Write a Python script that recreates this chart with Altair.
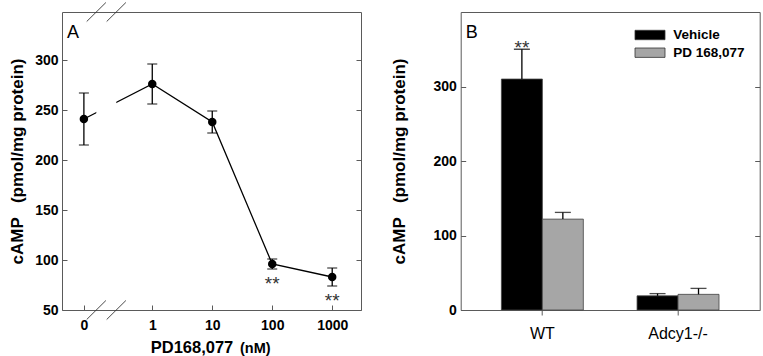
import math
import altair as alt
import pandas as pd

# ---------------- Panel A data ----------------
conc_labels = ["0", "1", "10", "100", "1000"]
conc_values = [0, 1, 10, 100, 1000]
camp_mean = [241, 276, 238, 96, 83]
camp_err = [26, 20, 11, 5, 9]
camp_sig = ["", "", "", "**", "**"]

# ---------------- Panel B data ----------------
genotypes = ["WT", "Adcy1-/-"]
treatments = ["Vehicle", "PD 168,077"]
treatment_colors = ["#000000", "#a6a6a6"]
vehicle_mean = [310, 19]
vehicle_err = [40, 3]
pd_mean = [122, 21]
pd_err = [9, 8]
vehicle_sig = ["**", ""]
pd_sig = ["", ""]

# ---------------- layout / style constants ----------------
ZERO_POS = -1.14            # where the "0" dose sits, left of the axis break
BREAK_CENTERS = [-0.933, -0.60]
XA_DOMAIN = [-1.505, 3.48]
YA_DOMAIN = [50, 348]
YB_DOMAIN = [0, 400]
W, H = 299, 298
FONT = "Liberation Sans"
FRAME = "#5a5a5a"
YTITLE = "cAMP\u00a0\u00a0\u00a0(pmol/mg protein)"

pos = [math.log10(c) if c > 0 else ZERO_POS for c in conc_values]
dfa = pd.DataFrame({"label": conc_labels, "pos": pos, "mean": camp_mean,
                    "err": camp_err, "sig": camp_sig})
dfa["lo"] = dfa["mean"] - dfa["err"]
dfa["hi"] = dfa["mean"] + dfa["err"]

xsA = alt.Scale(domain=XA_DOMAIN, nice=False, zero=False)
ysA = alt.Scale(domain=YA_DOMAIN, nice=False, zero=False)

x_axis_A = alt.Axis(values=pos,
                    labelExpr="datum.value < -1 ? '0' : format(pow(10, datum.value), 'd')",
                    title=None, domain=False, grid=False, tickSize=5, offset=-5,
                    tickColor=FRAME, labelFont=FONT, labelFontWeight="bold",
                    labelFontSize=14, labelPadding=8, labelColor="black")
y_axis_A = alt.Axis(values=[50, 100, 150, 200, 250, 300], title=YTITLE,
                    domain=False, grid=False, tickSize=5, offset=-5, tickColor=FRAME,
                    labelFont=FONT, labelFontWeight="bold", labelFontSize=14,
                    labelColor="black", labelPadding=4, minExtent=36, maxExtent=36,
                    titlePadding=5, titleFont=FONT, titleFontSize=17,
                    titleFontWeight="bold", titleColor="black")
y_axis_A_right = alt.Axis(orient="right", values=[50, 100, 150, 200, 250, 300],
                          labels=False, title=None, domain=False, grid=False,
                          tickSize=5, offset=-5, tickColor=FRAME,
                          minExtent=0, maxExtent=0)

baseA = alt.Chart(dfa)
lineA = baseA.mark_line(color="black", strokeWidth=1.3).encode(
    x=alt.X("pos:Q", scale=xsA, axis=x_axis_A),
    y=alt.Y("mean:Q", scale=ysA, axis=y_axis_A))

gapA = alt.Chart(pd.DataFrame({"x": [BREAK_CENTERS[0]], "x2": [BREAK_CENTERS[1]],
                               "y": [200], "y2": [320]})).mark_rect(color="white").encode(
    x=alt.X("x:Q", scale=xsA, axis=None), x2="x2:Q",
    y=alt.Y("y:Q", scale=ysA, axis=None), y2="y2:Q")

errA = baseA.mark_rule(color="black", strokeWidth=1.3).encode(
    x=alt.X("pos:Q", scale=xsA, axis=None),
    y=alt.Y("lo:Q", scale=ysA, axis=y_axis_A_right), y2="hi:Q")

capsA = baseA.transform_fold(["lo", "hi"], as_=["k", "v"]).mark_tick(
    orient="horizontal", size=10, thickness=1.3, color="black").encode(
    x=alt.X("pos:Q", scale=xsA, axis=None),
    y=alt.Y("v:Q", scale=ysA, axis=None))

ptsA = baseA.mark_circle(size=72, color="black", opacity=1).encode(
    x=alt.X("pos:Q", scale=xsA, axis=None),
    y=alt.Y("mean:Q", scale=ysA, axis=None))

sigA = baseA.transform_filter("datum.sig != ''").mark_text(
    dy=21, baseline="alphabetic", fontSize=19, font=FONT, color="#333").encode(
    x=alt.X("pos:Q", scale=xsA, axis=None),
    y=alt.Y("lo:Q", scale=ysA, axis=None), text="sig:N")

slash_rows = []
for c in BREAK_CENTERS:
    for e in YA_DOMAIN:
        slash_rows.append({"x": c - 0.16, "x2": c + 0.16, "y": e - 9.5, "y2": e + 9.5})
slashA = alt.Chart(pd.DataFrame(slash_rows)).mark_rule(color="#333", strokeWidth=0.9).encode(
    x=alt.X("x:Q", scale=xsA, axis=None), x2="x2:Q",
    y=alt.Y("y:Q", scale=ysA, axis=None), y2="y2:Q")

labA = alt.Chart(pd.DataFrame({"t": ["A"]})).mark_text(
    align="left", baseline="alphabetic", fontSize=18, font=FONT, color="black").encode(
    x=alt.value(5), y=alt.value(26), text="t:N")

xt1 = alt.Chart(pd.DataFrame({"t": ["PD168,077"]})).mark_text(
    align="right", baseline="alphabetic", fontSize=16.5, fontWeight="bold", font=FONT,
    color="black").encode(x=alt.value(171.3), y=alt.value(341), text="t:N")
xt2 = alt.Chart(pd.DataFrame({"t": ["(nM)"]})).mark_text(
    align="left", baseline="alphabetic", fontSize=14.5, fontWeight="bold", font=FONT,
    color="black").encode(x=alt.value(178), y=alt.value(341), text="t:N")

chartA = alt.layer(lineA, gapA, errA, capsA, ptsA, sigA, slashA, labA, xt1, xt2).resolve_axis(
    x="independent", y="independent").properties(width=W, height=H)

# ---------------- Panel B ----------------
rows = []
for i, g in enumerate(genotypes):
    rows.append({"genotype": g, "treatment": treatments[0], "mean": vehicle_mean[i],
                 "err": vehicle_err[i], "sig": vehicle_sig[i]})
    rows.append({"genotype": g, "treatment": treatments[1], "mean": pd_mean[i],
                 "err": pd_err[i], "sig": pd_sig[i]})
dfb = pd.DataFrame(rows)
dfb["hi"] = dfb["mean"] + dfb["err"]

ysB = alt.Scale(domain=YB_DOMAIN, nice=False, zero=True)
xB_scale = alt.Scale(paddingInner=0.396, paddingOuter=0.30)
x_axis_B = alt.Axis(title=None, domain=False, grid=False, tickSize=5, tickColor=FRAME,
                    labelFont=FONT, labelFontSize=16, labelColor="black", labelPadding=10,
                    labelAngle=0)
y_axis_B = alt.Axis(values=[0, 100, 200, 300], title=YTITLE,
                    domain=False, grid=False, tickSize=5, offset=-5, tickColor=FRAME,
                    labelFont=FONT, labelFontWeight="bold", labelFontSize=14,
                    labelColor="black", labelPadding=4.4, minExtent=36, maxExtent=36,
                    titlePadding=21, titleFont=FONT, titleFontSize=17,
                    titleFontWeight="bold", titleColor="black")
y_axis_B_right = alt.Axis(orient="right", values=[0, 100, 200, 300],
                          labels=False, title=None, domain=False, grid=False,
                          tickSize=5, offset=-5, tickColor=FRAME,
                          minExtent=0, maxExtent=0)

xB = alt.X("genotype:N", sort=genotypes, scale=xB_scale, axis=x_axis_B)
xBn = alt.X("genotype:N", sort=genotypes, scale=xB_scale, axis=None)
xoff = alt.XOffset("treatment:N", sort=treatments,
                   scale=alt.Scale(paddingInner=0, paddingOuter=0))

baseB = alt.Chart(dfb)
barsB = baseB.mark_bar(stroke="#444", strokeWidth=0.8).encode(
    x=xB, xOffset=xoff,
    y=alt.Y("mean:Q", scale=ysB, axis=y_axis_B),
    color=alt.Color("treatment:N", sort=treatments,
                    scale=alt.Scale(domain=treatments, range=treatment_colors),
                    legend=None))
errB = baseB.mark_rule(color="black", strokeWidth=1.3).encode(
    x=xBn, xOffset=xoff,
    y=alt.Y("mean:Q", scale=ysB, axis=y_axis_B_right), y2="hi:Q")
capsB = baseB.mark_tick(orient="horizontal", size=16, thickness=1.3, color="black").encode(
    x=xBn, xOffset=xoff,
    y=alt.Y("hi:Q", scale=ysB, axis=None))
sigB = baseB.transform_filter("datum.sig != ''").mark_text(
    dy=5, baseline="alphabetic", fontSize=19, font=FONT, color="#333").encode(
    x=xBn, xOffset=xoff,
    y=alt.Y("hi:Q", scale=ysB, axis=None), text="sig:N")
labB = alt.Chart(pd.DataFrame({"t": ["B"]})).mark_text(
    align="left", baseline="alphabetic", fontSize=18, font=FONT, color="black").encode(
    x=alt.value(5), y=alt.value(26), text="t:N")

# manual legend (box + label per treatment)
legend_layers = []
LEG_TOP = [18.3, 36.0]
for i, t in enumerate(treatments):
    legend_layers.append(
        alt.Chart(pd.DataFrame({"t": [t]})).mark_rect(
            color=treatment_colors[i], stroke="#333", strokeWidth=0.8).encode(
            x=alt.value(174.3), x2=alt.value(204.3),
            y=alt.value(LEG_TOP[i]), y2=alt.value(LEG_TOP[i] + 9.4)))
    legend_layers.append(
        alt.Chart(pd.DataFrame({"t": [t]})).mark_text(
            align="left", baseline="alphabetic", fontSize=13.5, fontWeight="bold",
            font=FONT, color="black").encode(
            x=alt.value(212.6), y=alt.value(LEG_TOP[i] + 8.8), text="t:N"))

chartB = alt.layer(barsB, errB, capsB, sigB, labB, *legend_layers).resolve_axis(
    x="independent", y="independent").properties(width=W, height=H)

chart = alt.hconcat(chartA, chartB, spacing=99.7, bounds="flush").properties(
    padding={"left": 7, "top": 1, "right": 0, "bottom": 0}
).configure_view(stroke=FRAME, strokeWidth=1)

chart.save("out.html", embed_options={"renderer": "svg", "actions": False})
